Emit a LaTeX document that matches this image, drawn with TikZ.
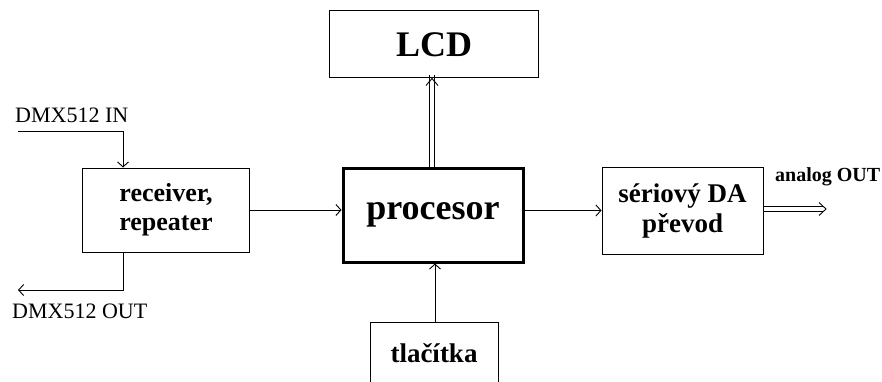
\documentclass[tikz,border=0pt]{standalone}
\usepackage{fontspec}
\setmainfont{Liberation Serif}
\usetikzlibrary{arrows.meta}
\begin{document}
\begin{tikzpicture}[x=1pt,y=-1pt,
  blk/.style={draw, line width=1pt, inner sep=0pt, align=center, font=\bfseries},
  sig/.style={line width=0.9pt, -{Straight Barb[length=5pt,width=11pt,line width=0.9pt]}},
  rail/.style={line width=0.9pt},
  lbl/.style={inner sep=0pt, anchor=base west}]
\clip (0,0) rectangle (882,382);
\fill[white] (0,0) rectangle (882,382);

% blocks
\node[blk, minimum width=167pt, minimum height=84pt, font=\fontsize{26}{29}\bfseries\selectfont]
  (rx) at (166,210) {receiver,\\repeater};
\node[blk, minimum width=209pt, minimum height=67pt, font=\fontsize{36}{38}\bfseries\selectfont]
  (lcd) at (434,44.5) {LCD};
\node[blk, line width=3pt, minimum width=180pt, minimum height=94pt, font=\fontsize{36}{38}\bfseries\selectfont]
  (cpu) at (433,215) {procesor};
\node[blk, minimum width=161pt, minimum height=87pt, font=\fontsize{27}{30}\bfseries\selectfont]
  (da) at (682.5,210.5) {sériový DA\\převod};
\node[blk, minimum width=128pt, minimum height=62pt, font=\fontsize{27}{30}\bfseries\selectfont]
  (btn) at (434,353) {tlačítka};

% free ends of the DMX lines and the analog output
\coordinate (inA) at (18,131);
\coordinate (outA) at (18,290);
\coordinate (aout) at (826,209);
\coordinate (lcdin) at (lcd.south -| 432,0);
\coordinate (cpuout) at (cpu.north -| 432,0);
\coordinate (daout) at (da.east |- aout);

% single connectors
\draw[sig] (inA) -| (rx.north -| 123,0);
\draw[sig] (rx.south -| 123,0) |- (outA);
\draw[sig] (rx.east) -- (cpu.west |- rx.east);
\draw[sig] (cpu.east |- da.west) -- (da.west);
\draw[sig] (btn.north -| 435,0) -- (cpu.south -| 435,0);

% processor -> LCD bus: two rails and an open head
\draw[rail] ([xshift=-2.2pt]cpuout) -- ([shift={(-2.2pt,3pt)}]lcdin);
\draw[rail] ([xshift=2.2pt]cpuout) -- ([shift={(2.2pt,3pt)}]lcdin);
\draw[rail] ([shift={(-6,7)}]lcdin) -- (lcdin) -- ([shift={(6,7)}]lcdin);

% DA -> analog output bus
\draw[rail] ([yshift=-2.2pt]daout) -- ([shift={(-3pt,-2.2pt)}]aout);
\draw[rail] ([yshift=2.2pt]daout) -- ([shift={(-3pt,2.2pt)}]aout);
\draw[rail] ([shift={(-7,-6.5)}]aout) -- (aout) -- ([shift={(-7,6.5)}]aout);

% labels
\node[lbl, font=\fontsize{22}{24}\selectfont] (lin) at (15,123) {DMX512 IN};
\node[lbl, font=\fontsize{22}{24}\selectfont] (lout) at (12,318) {DMX512 OUT};
\node[lbl, font=\fontsize{20}{22}\bfseries\selectfont] (lao) at (775,181) {analog OUT};
\end{tikzpicture}
\end{document}
